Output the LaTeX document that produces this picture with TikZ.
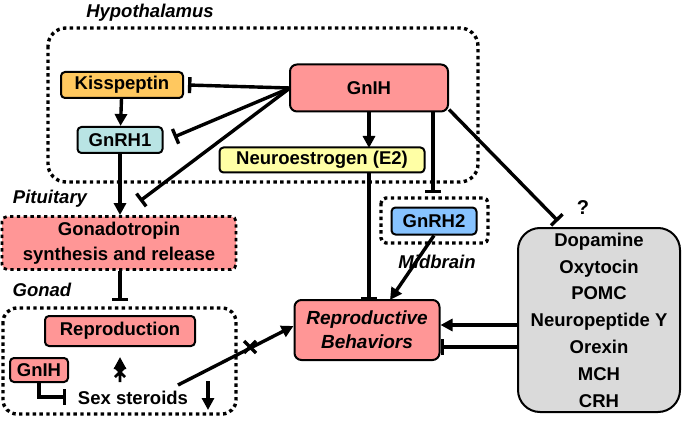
\documentclass[tikz,border=0pt]{standalone}
\usepackage{fontspec}
\setmainfont{Liberation Sans}
\usetikzlibrary{arrows.meta}
\definecolor{pinkbox}{RGB}{255,150,150}
\definecolor{orangebox}{RGB}{255,200,95}
\definecolor{cyanbox}{RGB}{185,228,228}
\definecolor{yellowbox}{RGB}{255,255,165}
\definecolor{bluebox}{RGB}{135,195,255}
\definecolor{graybox}{RGB}{218,218,218}
\tikzset{
  every node/.style={font=\fontsize{18.5}{21}\selectfont\bfseries},
  box/.style={draw, line width=2pt, rounded corners=4pt, inner sep=1pt},
  region/.style={draw, line width=3.4pt, dash pattern=on 3.4pt off 3.4pt, rounded corners=18pt},
  act/.style={line width=3.4pt, -{Triangle[length=12pt,width=12pt]}},
  inh/.style={line width=3.4pt, -{Bar[width=16pt,line width=3.4pt]}},
  lbl/.style={font=\fontsize{18.5}{21}\selectfont\bfseries\itshape},
}
\begin{document}
\begin{tikzpicture}[x=1pt,y=-1pt]
	\useasboundingbox (0,0) rectangle (690,422);

	% regions
	\draw [region] (48,28) rectangle (478,182);
	\draw [region, rounded corners=14pt] (3,308) rectangle (236,414);
	\draw [region, rounded corners=5pt] (381,198) rectangle (488,243);
	\node [lbl] at (150,13) {Hypothalamus};
	\node [lbl] at (50,199) {Pituitary};
	\node [lbl] at (42,290) {Gonad};
	\node [lbl] at (437,262) {Midbrain};

	% boxes
	\node [box, fill=orangebox, minimum width=122pt, minimum height=26pt] (kiss) at (122,85) {Kisspeptin};
	\node [box, fill=pinkbox, minimum width=158pt, minimum height=47pt, rounded corners=7pt] (gnih) at (369,88) {GnIH};
	\node [box, fill=cyanbox, minimum width=85pt, minimum height=26pt] (gnrh1) at (120,140) {GnRH1};
	\node [box, fill=yellowbox, minimum width=205pt, minimum height=25pt] (neuro) at (322,160) {Neuroestrogen (E2)};
	\node [region, line width=2.8pt, rounded corners=5pt, fill=pinkbox, minimum width=234pt, minimum height=53pt, align=center, inner sep=0pt, font=\fontsize{18.5}{25}\selectfont\bfseries] (gonado) at (119,243) {Gonadotropin\\synthesis and release};
	\node [box, fill=bluebox, minimum width=85pt, minimum height=27pt] (gnrh2) at (434,221) {GnRH2};
	\node [box, fill=pinkbox, minimum width=150pt, minimum height=30pt] (repro) at (120,331) {Reproduction};
	\node [box, fill=pinkbox, minimum width=58pt, minimum height=24pt] (gnihg) at (39,370) {GnIH};
	\node (sex) at (133,398) {Sex steroids};
	\node [box, fill=pinkbox, minimum width=145pt, minimum height=60pt, rounded corners=7pt, align=center, font=\fontsize{19}{24}\selectfont\bfseries\itshape] (behav) at (367,330) {Reproductive\\Behaviors};
	\node [box, fill=graybox, minimum width=162pt, minimum height=184pt, rounded corners=22pt, align=center, font=\fontsize{18.5}{26.8}\selectfont\bfseries] (others) at (599,320) {Dopamine\\Oxytocin\\POMC\\Neuropeptide Y\\Orexin\\MCH\\CRH};
	\node [font=\fontsize{20}{22}\selectfont\bfseries] (q) at (583,208) {?};

	% connectors
	\coordinate (gw) at (290,88);
	\draw [inh] (gw) -- (188,85);
	\draw [inh] (gw) -- (174,137);
	\draw [inh] (gw) -- (140,201);
	\draw [act] (kiss) -- (gnrh1);
	\draw [act] (gnrh1) -- (gonado.north -| gnrh1);
	\draw [act] (369,112) -- (369,148);
	\draw [inh] (433,112) -- (433,193);
	\draw [inh] (gnih.south east) ++(0,-3) -- (558,221);
	\draw [inh] (369,173) -- (369,300);
	\draw [act] (gnrh2.south) -- (390,300);
	\draw [inh] (gonado.south -| 120,0) -- (120,301);
	\draw [act] (others.west |- 0,325) -- (behav.east |- 0,325);
	\draw [inh] (others.west |- 0,347) -- (behav.east |- 0,347);
	\draw [act] (178,385) -- (behav.west |- 0,326);
	\draw [line width=3.4pt] (244,341) -- (256,353) (244,353) -- (256,341);
	\draw [inh] (gnihg.south) -- (39,397) -- (66,397);
	\draw [act] (208,381) -- (208,410);
	\draw [act] (120,374) -- (120,357);
	\draw [line width=2.8pt] (115,367) -- (125,377) (115,377) -- (125,367) (120,372) -- (120,382);
\end{tikzpicture}
\end{document}
